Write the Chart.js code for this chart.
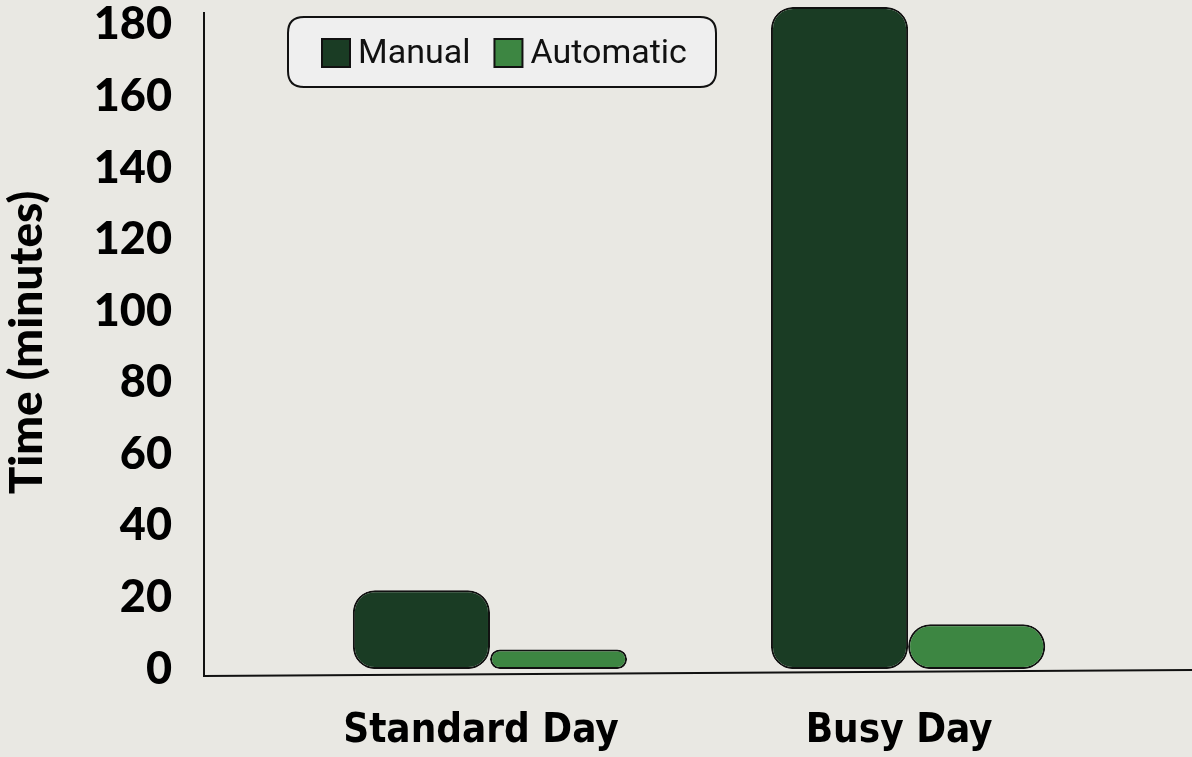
<!DOCTYPE html>
<html>
<head>
<meta charset="utf-8">
<script src="https://cdn.jsdelivr.net/npm/chart.js@4.4.0/dist/chart.umd.min.js"></script>
<style>
  html, body { margin: 0; padding: 0; background: #e9e8e3; }
  #wrap { width: 1192px; height: 757px; }
</style>
</head>
<body>
<div id="wrap"><canvas id="c" width="1192" height="757"></canvas></div>
<script>
// ---- data ----
const categories = ["Standard Day", "Busy Day"];
const manualMinutes = [22, 185];
const automaticMinutes = [5.5, 12.5];
const seriesNames = ["Manual", "Automatic"];
const yTickValues = [0, 20, 40, 60, 80, 100, 120, 140, 160, 180];

const colors = { manual: "#1a3c24", automatic: "#3d8642", bg: "#e9e8e3", legendBg: "#efefef" };

function toPoints(vals) { return vals.map((v, i) => ({ x: i, y: v })); }

const axesPlugin = {
  id: "axesAndLegend",
  beforeDraw(chart) {
    const ctx = chart.ctx;
    ctx.save();
    ctx.fillStyle = colors.bg;
    ctx.fillRect(0, 0, chart.width, chart.height);
    ctx.restore();
  },
  afterDatasetsDraw(chart) {
    const ctx = chart.ctx;
    const a = chart.chartArea;
    ctx.save();
    ctx.strokeStyle = "#111";
    ctx.lineWidth = 2;
    ctx.beginPath();
    ctx.moveTo(a.left, a.top);
    ctx.lineTo(a.left, a.bottom + 3);
    ctx.lineTo(a.right, a.bottom - 3);
    ctx.stroke();

    // legend box
    const lx = 288, ly = 17, lw = 428, lh = 70, r = 16;
    ctx.beginPath();
    ctx.moveTo(lx + r, ly);
    ctx.lineTo(lx + lw - r, ly);
    ctx.quadraticCurveTo(lx + lw, ly, lx + lw, ly + r);
    ctx.lineTo(lx + lw, ly + lh - r);
    ctx.quadraticCurveTo(lx + lw, ly + lh, lx + lw - r, ly + lh);
    ctx.lineTo(lx + r, ly + lh);
    ctx.quadraticCurveTo(lx, ly + lh, lx, ly + lh - r);
    ctx.lineTo(lx, ly + r);
    ctx.quadraticCurveTo(lx, ly, lx + r, ly);
    ctx.closePath();
    ctx.fillStyle = colors.legendBg;
    ctx.fill();
    ctx.lineWidth = 2;
    ctx.strokeStyle = "#111";
    ctx.stroke();

    ctx.font = "34px Roboto";
    ctx.textBaseline = "middle";
    ctx.textAlign = "left";
    let x = 322;
    const cy = 53;
    chart.data.datasets.forEach((ds) => {
      ctx.fillStyle = ds.backgroundColor;
      ctx.fillRect(x, cy - 14, 28, 28);
      ctx.lineWidth = 2;
      ctx.strokeStyle = "#111";
      ctx.strokeRect(x, cy - 14, 28, 28);
      ctx.fillStyle = "#111";
      ctx.fillText(ds.label, x + 36, cy + 1);
      x += 36 + ctx.measureText(ds.label).width + 24;
    });
    ctx.restore();
  }
};

new Chart(document.getElementById("c"), {
  type: "bar",
  data: {
    datasets: [
      { label: seriesNames[0], data: toPoints(manualMinutes), backgroundColor: colors.manual },
      { label: seriesNames[1], data: toPoints(automaticMinutes), backgroundColor: colors.automatic }
    ]
  },
  options: {
    responsive: false,
    animation: false,
    events: [],
    layout: { padding: { top: 12, left: 0, right: 0, bottom: 0 } },
    datasets: {
      bar: {
        borderColor: "#111",
        borderWidth: 2,
        borderRadius: 22,
        borderSkipped: false,
        categoryPercentage: 0.656,
        barPercentage: 1.0,
        clip: false
      }
    },
    plugins: { legend: { display: false }, tooltip: { enabled: false } },
    scales: {
      x: {
        type: "linear",
        offset: false,
        min: -0.684,
        max: 1.679,
        grid: { display: false, drawTicks: false, offset: false },
        border: { display: false },
        afterBuildTicks(scale) { scale.ticks = categories.map((_, i) => ({ value: i })); },
        afterFit(scale) { scale.height = 84; scale.paddingLeft = 0; scale.paddingRight = 0; },
        ticks: {
          callback: (v) => categories[v] ?? "",
          color: "#000",
          padding: 35,
          labelOffset: -9,
          autoSkip: false,
          maxRotation: 0,
          font: { family: "'DejaVu Sans Condensed', 'DejaVu Sans', sans-serif", weight: "bold", size: 40 }
        }
      },
      y: {
        min: -1.1,
        max: 183.6,
        grid: { display: false, drawTicks: false },
        border: { display: false },
        afterBuildTicks(scale) { scale.ticks = yTickValues.map((v) => ({ value: v })); },
        afterFit(scale) { scale.width = 204; scale.paddingTop = 0; scale.paddingBottom = 0; },
        ticks: {
          color: "#000",
          padding: 32,
          font: { family: "Lato", weight: "900", size: 45 }
        },
        title: {
          display: true,
          text: "Time (minutes)",
          color: "#000",
          padding: { top: 0, bottom: 0 },
          font: { family: "Lato", weight: "900", size: 46 }
        }
      }
    }
  },
  plugins: [axesPlugin]
});
</script>
</body>
</html>
